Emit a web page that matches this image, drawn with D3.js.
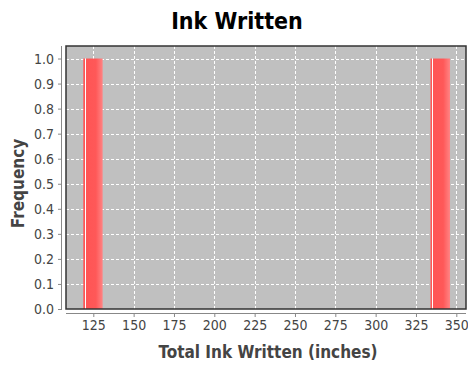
<!DOCTYPE html>
<html><head><meta charset="utf-8">
<script src="https://cdn.jsdelivr.net/npm/d3@7"></script>
<style>body{margin:0;background:#fff}svg{display:block}</style>
</head><body><div id="chart"></div>
<script>
// Data
const binStart = [118.8, 334.0];
const binEnd = [130.8, 346.1];
const counts = [1, 1];
const xTicks = [125, 150, 175, 200, 225, 250, 275, 300, 325, 350];
const yTicks = [0.0, 0.1, 0.2, 0.3, 0.4, 0.5, 0.6, 0.7, 0.8, 0.9, 1.0];
const xDomain = [108.08, 356.0];
const yDomain = [0, 1.05];

const W = 468, H = 365;
const L = 66, R = 466, T = 46, B = 309;
const font = "'DejaVu Sans Condensed', 'DejaVu Sans', sans-serif";

const svg = d3.select("#chart").append("svg").attr("width", W).attr("height", H);
svg.append("rect").attr("width", W).attr("height", H).attr("fill", "#fff");

const x = d3.scaleLinear().domain(xDomain).range([L, R]);
const y = d3.scaleLinear().domain(yDomain).range([B, T]);

// gradient
const defs = svg.append("defs");
const g = defs.append("linearGradient").attr("id", "barGrad").attr("x1", "0%").attr("x2", "100%").attr("y1", "0%").attr("y2", "0%");
[["0%", "#ff5555"], ["7%", "#ff5555"], ["8%", "#ffffff"], ["14%", "#ffffff"], ["15%", "#ff5555"], ["65%", "#ff5858"], ["100%", "#ff8484"]]
  .forEach(([o, c]) => g.append("stop").attr("offset", o).attr("stop-color", c));

// plot background
svg.append("rect").attr("x", L).attr("y", T).attr("width", R - L).attr("height", B - T).attr("fill", "#c0c0c0");

// gridlines
const grid = svg.append("g").attr("stroke", "#fff").attr("stroke-width", 1).attr("stroke-dasharray", "3,2");
xTicks.forEach(t => grid.append("line").attr("x1", Math.round(x(t)) + 0.5).attr("x2", Math.round(x(t)) + 0.5).attr("y1", T).attr("y2", B));
yTicks.filter(t => t > 0).forEach(t => grid.append("line").attr("y1", Math.round(y(t)) + 0.5).attr("y2", Math.round(y(t)) + 0.5).attr("x1", L).attr("x2", R));

// bars
svg.append("g").selectAll("rect").data(counts).join("rect")
  .attr("x", (d, i) => x(binStart[i]))
  .attr("width", (d, i) => x(binEnd[i]) - x(binStart[i]))
  .attr("y", d => y(d))
  .attr("height", d => B - y(d))
  .attr("fill", "url(#barGrad)");

// plot outline
svg.append("rect").attr("x", L).attr("y", T).attr("width", R - L).attr("height", B - T)
  .attr("fill", "none").attr("stroke", "#333").attr("stroke-width", 1.5);

// x axis
const xAxis = d3.axisBottom(x).tickValues(xTicks).tickFormat(d3.format("d")).tickSize(4).tickPadding(3);
const gx = svg.append("g").attr("transform", `translate(0,${B + 4})`).call(xAxis);
gx.select(".domain").attr("stroke", "#888").attr("d", `M${L},0.5H${R}`);
gx.selectAll(".tick line").attr("stroke", "#888");
gx.selectAll("text").attr("fill", "#444").style("font-family", font).style("font-size", "14px");

// y axis
const yAxis = d3.axisLeft(y).tickValues(yTicks).tickFormat(d3.format(".1f")).tickSize(4).tickPadding(4);
const gy = svg.append("g").attr("transform", `translate(${L - 4},0)`).call(yAxis);
gy.select(".domain").attr("stroke", "#888").attr("d", `M-0.5,${T}V${B}`);
gy.selectAll(".tick line").attr("stroke", "#888");
gy.selectAll("text").attr("fill", "#444").style("font-family", font).style("font-size", "14px");

// title
svg.append("text").attr("x", 237).attr("y", 29).attr("text-anchor", "middle")
  .style("font-family", font).style("font-weight", "bold").style("font-size", "23px").attr("fill", "#000")
  .text("Ink Written");

// axis labels
svg.append("text").attr("x", 268).attr("y", 358).attr("text-anchor", "middle")
  .style("font-family", font).style("font-weight", "bold").style("font-size", "17px").attr("fill", "#444")
  .text("Total Ink Written (inches)");
svg.append("text").attr("transform", `translate(24,${(T + B) / 2 + 6}) rotate(-90)`).attr("text-anchor", "middle")
  .style("font-family", font).style("font-weight", "bold").style("font-size", "17px").attr("fill", "#444")
  .text("Frequency");
</script></body></html>
